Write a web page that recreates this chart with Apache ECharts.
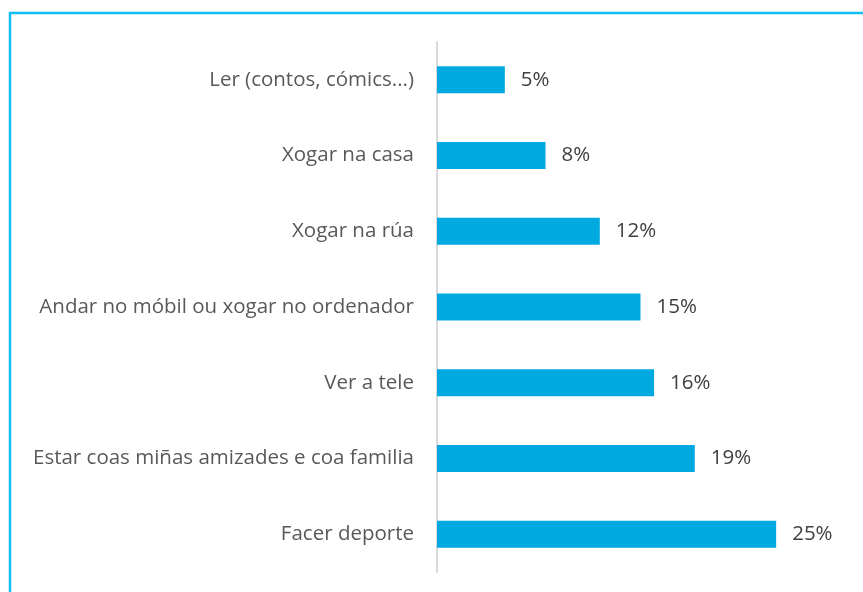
<!DOCTYPE html>
<html>
<head>
<meta charset="utf-8">
<script src="https://cdn.jsdelivr.net/npm/echarts@6/dist/echarts.min.js"></script>
<style>
  html, body { margin: 0; padding: 0; background: #fff; }
  #chart { width: 863px; height: 592px; }
</style>
</head>
<body>
<div id="chart"></div>
<script>
// Activities, listed bottom-to-top as the category axis draws them
const categories = [
  'Facer deporte',
  'Estar coas miñas amizades e coa familia',
  'Ver a tele',
  'Andar no móbil ou xogar no ordenador',
  'Xogar na rúa',
  'Xogar na casa',
  'Ler (contos, cómics...)'
];
// Share of answers, in percent
const values = [25, 19, 16, 15, 12, 8, 5];

const chart = echarts.init(document.getElementById('chart'), null, { renderer: 'canvas' });

chart.setOption({
  animation: false,
  backgroundColor: '#ffffff',
  grid: { left: 437, top: 42, width: 407, height: 530, containLabel: false },
  xAxis: {
    type: 'value',
    min: 0,
    max: 30,
    show: false
  },
  yAxis: {
    type: 'category',
    data: categories,
    axisLine: { show: true, lineStyle: { color: '#d9d9d9', width: 2 } },
    axisTick: { show: false },
    axisLabel: {
      margin: 23,
      color: '#595959',
      fontFamily: 'Open Sans',
      fontSize: 20.5
    }
  },
  series: [{
    type: 'bar',
    data: values,
    barWidth: 27,
    itemStyle: { color: '#00A9DF' },
    label: {
      show: true,
      position: 'right',
      distance: 16,
      formatter: p => p.value + '%',
      color: '#404040',
      fontFamily: 'Open Sans',
      fontSize: 20.5
    }
  }],
  graphic: [{
    type: 'rect',
    shape: { x: 10, y: 13, width: 900, height: 650 },
    style: { fill: null, stroke: '#12BEF2', lineWidth: 2.5 },
    silent: true
  }]
});
</script>
</body>
</html>
